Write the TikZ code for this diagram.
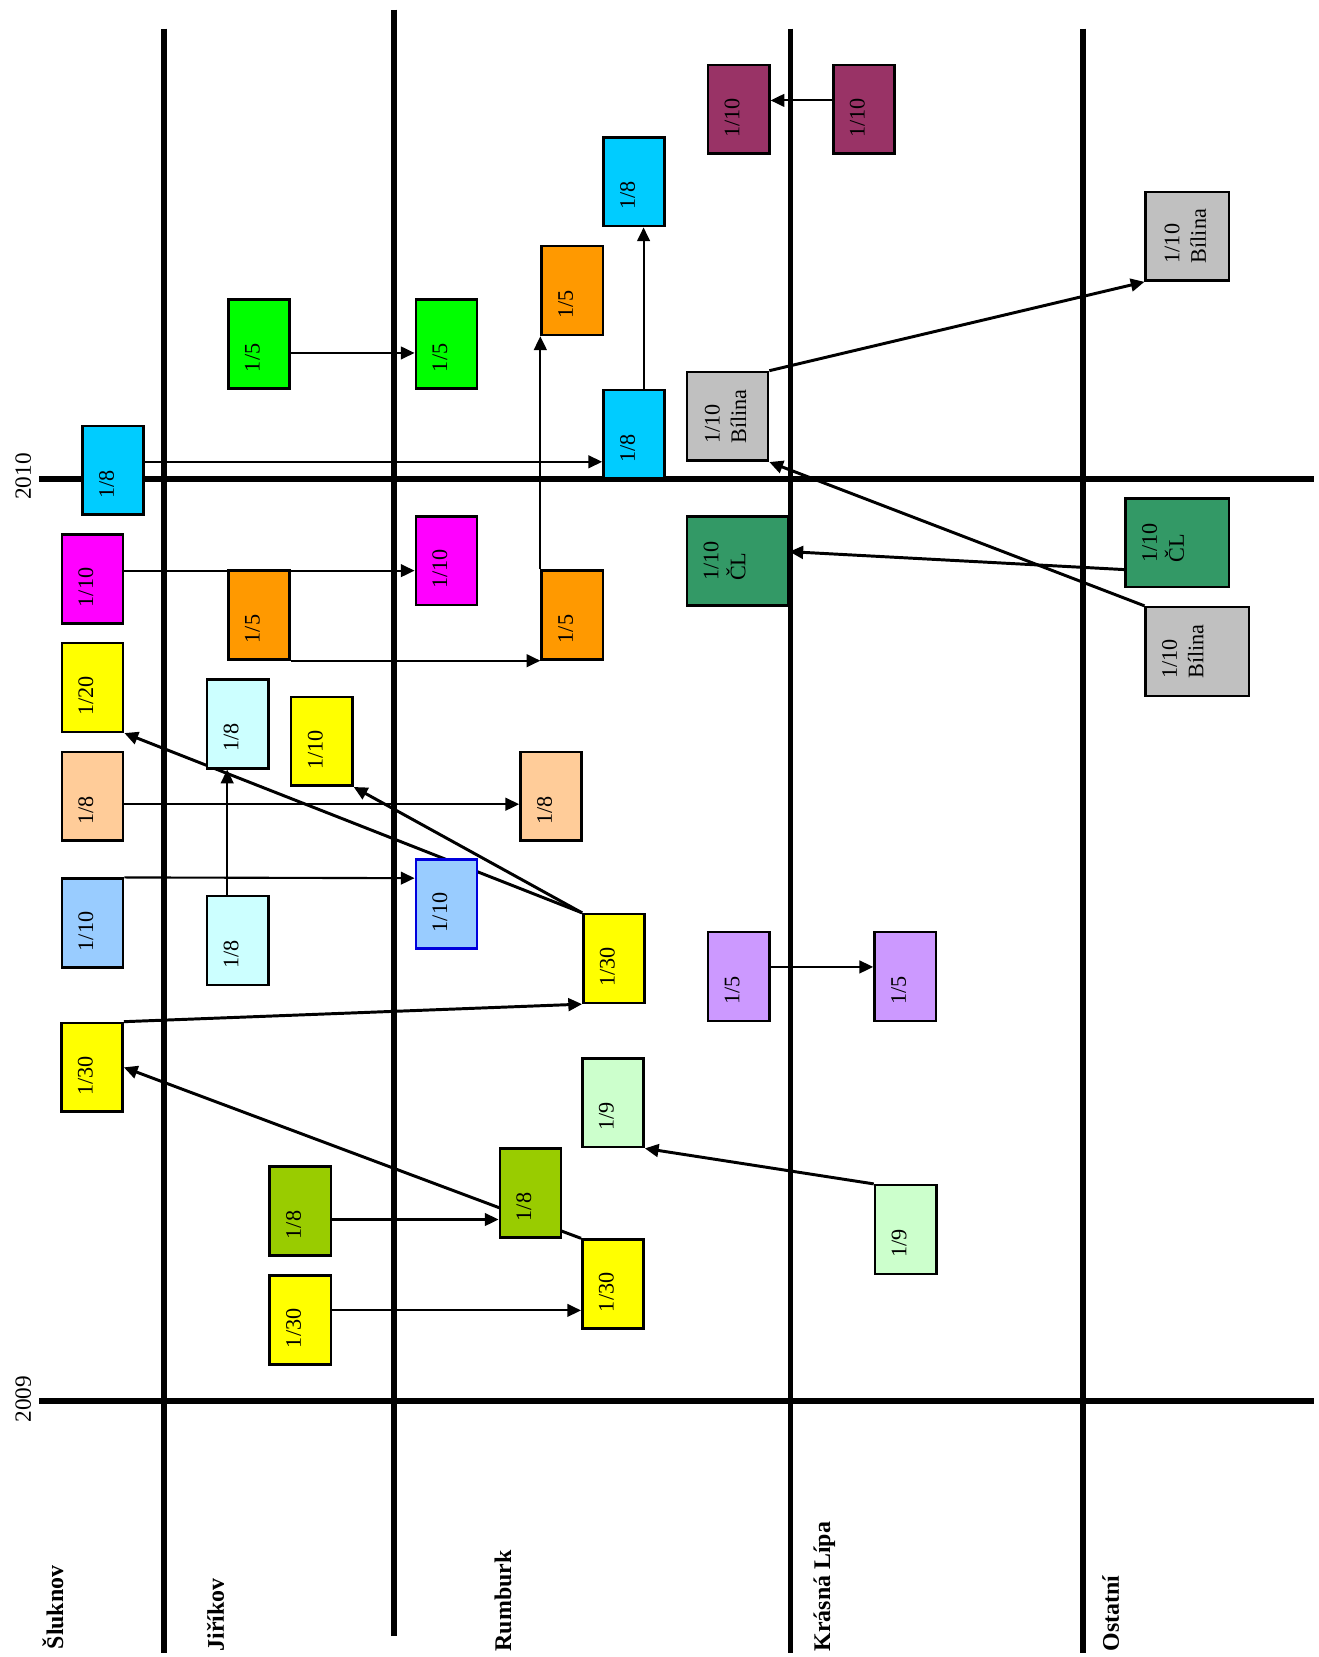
\documentclass[tikz,border=0pt]{standalone}
\usepackage{fontspec}
\setmainfont{Liberation Serif}
\usepackage{graphicx}
\usetikzlibrary{arrows.meta,backgrounds}

\definecolor{cyanbox}{RGB}{0,204,255}
\definecolor{greenbox}{RGB}{0,255,0}
\definecolor{orangebox}{RGB}{255,153,0}
\definecolor{maroonbox}{RGB}{153,51,102}
\definecolor{magentabox}{RGB}{255,0,255}
\definecolor{yellowbox}{RGB}{255,255,0}
\definecolor{peachbox}{RGB}{255,204,153}
\definecolor{icebox}{RGB}{204,255,255}
\definecolor{skybox}{RGB}{153,204,255}
\definecolor{greybox}{RGB}{192,192,192}
\definecolor{pinebox}{RGB}{51,153,102}
\definecolor{lilacbox}{RGB}{204,153,255}
\definecolor{mintbox}{RGB}{204,255,204}
\definecolor{olivebox}{RGB}{153,204,0}
\definecolor{blueedge}{RGB}{0,0,220}

% rotated box text
\newcommand{\bx}[1]{\rotatebox{90}{\makebox[26.6pt][l]{\rule[-6.3pt]{0pt}{6.3pt}#1}}}
\newcommand{\bxx}[2]{\rotatebox{90}{\begin{tabular}{@{}l@{}}#1\\#2\end{tabular}}}

\begin{document}
\begin{tikzpicture}[x=0.5pt, y=-0.5pt,
  box/.style={draw, line width=1.2pt, minimum width=29pt, minimum height=42pt, inner sep=1pt, font=\fontsize{10.5}{12.5}\selectfont},
  wide/.style={text width=#1, align=left, inner xsep=6pt},
  arr/.style={line width=1pt, -{Triangle[length=6.5pt,width=6pt]}},
  arrd/.style={arr, line width=1.4pt},
  bar/.style={line width=2.8pt},
  town/.style={rotate=90, anchor=west, inner sep=0pt, font=\fontsize{11.3}{13}\selectfont\bfseries},
  year/.style={rotate=90, inner sep=0pt, font=\fontsize{11}{13}\selectfont}]
\useasboundingbox (0,0) rectangle (1248,1568);

% years and towns
\node[year] (y2010) at (22,451) {2010};
\node[year] (y2009) at (22,1324) {2009};
\node[town] (sl) at (50,1561) {Šluknov};
\node[town] (ji) at (204,1563) {Jiříkov};
\node[town] (ru) at (476,1563) {Rumburk};
\node[town] (kl) at (780,1563) {Krásná Lípa};
\node[town] (os) at (1051,1563) {Ostatní};

% boxes
\node[box, fill=maroonbox] (mar1) at (699,103.5) {\bx{1/10}};
\node[box, fill=maroonbox] (mar2) at (817.5,103.5) {\bx{1/10}};
\node[box, fill=cyanbox] (cyA) at (600,172) {\bx{1/8}};
\node[box, fill=cyanbox] (cyB) at (600,411) {\bx{1/8}};
\node[box, fill=cyanbox] (cyS) at (107,445) {\bx{1/8}};
\node[box, fill=greenbox] (gr1) at (245,325.5) {\bx{1/5}};
\node[box, fill=greenbox] (gr2) at (422.5,325.5) {\bx{1/5}};
\node[box, fill=orangebox] (orA) at (541.5,275) {\bx{1/5}};
\node[box, fill=orangebox] (orB) at (541.5,582) {\bx{1/5}};
\node[box, fill=orangebox] (orJ) at (245,582) {\bx{1/5}};
\node[box, fill=greybox, minimum width=38.3pt] (blKL) at (688.5,394) {\bxx{1/10}{Bílina}};
\node[box, fill=greybox, minimum width=39.3pt] (blO1) at (1123.5,223.5) {\bxx{1/10}{Bílina}};
\node[box, fill=greybox, wide=36.8pt] (blO2) at (1133,616.5) {\bxx{1/10}{Bílina}};
\node[box, fill=pinebox, wide=35.8pt] (clKL) at (698,531) {\bxx{1/10}{ČL}};
\node[box, fill=pinebox, wide=36.8pt] (clO) at (1114,513.5) {\bxx{1/10}{ČL}};
\node[box, fill=magentabox] (mgS) at (87.5,548) {\bx{1/10}};
\node[box, fill=magentabox] (mgR) at (422.5,530.5) {\bx{1/10}};
\node[box, fill=yellowbox] (y20) at (87.5,650.5) {\bx{1/20}};
\node[box, fill=icebox] (lcA) at (225,685) {\bx{1/8}};
\node[box, fill=yellowbox] (y10) at (304.5,701.5) {\bx{1/10}};
\node[box, fill=peachbox] (pcS) at (87.5,753.5) {\bx{1/8}};
\node[box, fill=peachbox] (pcR) at (521.5,753.5) {\bx{1/8}};
\node[box, fill=skybox] (lbS) at (87.5,873.5) {\bx{1/10}};
\node[box, fill=icebox] (lcB) at (225,890) {\bx{1/8}};
\node[box, fill=skybox, draw=blueedge] (lbR) at (422.5,855.5) {\bx{1/10}};
\node[box, fill=yellowbox] (y30M) at (581,907) {\bx{1/30}};
\node[box, fill=lilacbox] (puL) at (699,924) {\bx{1/5}};
\node[box, fill=lilacbox] (puR) at (856.5,924) {\bx{1/5}};
\node[box, fill=yellowbox] (y30S) at (87,1010) {\bx{1/30}};
\node[box, fill=mintbox] (g9A) at (580,1043.5) {\bx{1/9}};
\node[box, fill=mintbox] (g9B) at (857,1163.5) {\bx{1/9}};
\node[box, fill=olivebox] (olJ) at (284,1146) {\bx{1/8}};
\node[box, fill=olivebox] (olR) at (502,1129) {\bx{1/8}};
\node[box, fill=yellowbox] (y30J) at (284,1249) {\bx{1/30}};
\node[box, fill=yellowbox] (y30R) at (580,1215) {\bx{1/30}};

\begin{scope}[on background layer]
% grid
\foreach \x/\a/\b in {155/27/1564, 373/9/1548, 748/27/1564, 1025/27/1564}
  \draw[bar] (\x,\a) -- (\x,\b);
\foreach \y in {453, 1326}
  \draw[bar] (37,\y) -- (1243,\y);
% moves
\draw[arr] (mar2.west |- 0,95) -- (mar1.east |- 0,95);
\draw[arr] (cyB.north -| 609,0) -- (cyA.south -| 609,0);
\draw[arr] (orB.north west) -- (orA.south west);
\draw[arr] (cyS.east |- 0,437) -- (cyB.west |- 0,437);
\draw[arr] (gr1.east |- 0,334) -- (gr2.west |- 0,334);
\draw[arrd] (blKL.north east) -- (blO1.south west);
\draw[arrd] (blO2.north west) -- (blKL.south east);
\draw[arrd] (clO.west |- 0,539) -- (clKL.east |- 0,522);
\draw[arr] (mgS.east |- 0,540) -- (mgR.west |- 0,540);
\draw[arr] (orJ.south east) -- (orB.south west);
\draw[arrd] (y30M.north west) -- (y20.south east);
\draw[arrd] (y30M.north west) -- (y10.south east);
\draw[arr] (pcS.east |- 0,761) -- (pcR.west |- 0,761);
\draw[arr] (lcB.north -| 215,0) -- (lcA.south -| 215,0);
\draw[arr] (lbS.north east) -- (lbR.west |- 0,831);
\draw[arr] (puL.east |- 0,915) -- (puR.west |- 0,915);
\draw[arrd] (y30S.north east) -- (y30M.south west);
\draw[arrd] (g9B.north west) -- (g9A.south east);
\draw[arrd] (y30R.north west) -- (y30S.east);
\draw[arr] (olJ.east |- 0,1154) -- (olR.west |- 0,1154);
\draw[arr] (y30J.east |- 0,1240) -- (y30R.west |- 0,1240);
\end{scope}
\end{tikzpicture}
\end{document}
